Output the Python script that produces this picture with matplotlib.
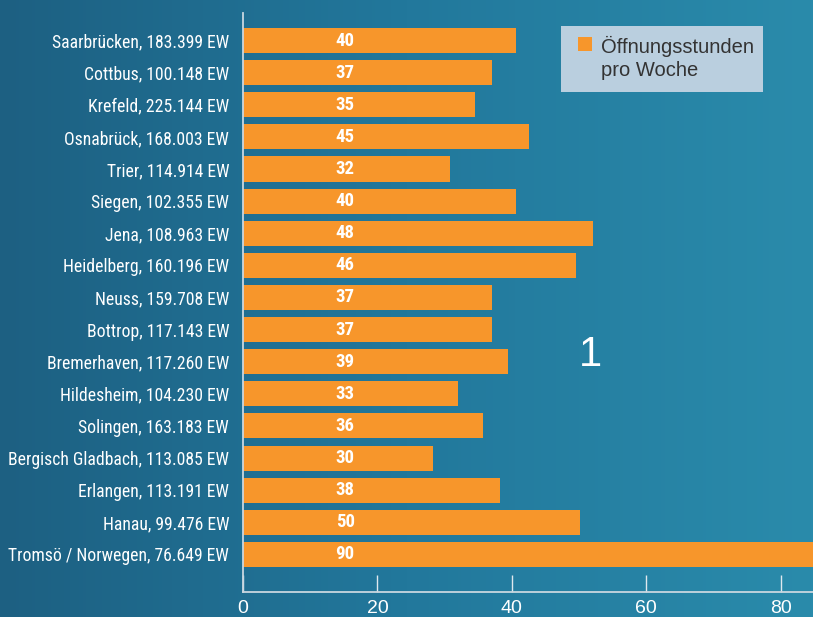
import matplotlib.pyplot as plt
import numpy as np
from matplotlib import font_manager
from matplotlib.colors import LinearSegmentedColormap
from matplotlib.patches import Rectangle

cities = ['Saarbrücken, 183.399 EW', 'Cottbus, 100.148 EW', 'Krefeld, 225.144 EW',
          'Osnabrück, 168.003 EW', 'Trier, 114.914 EW', 'Siegen, 102.355 EW',
          'Jena, 108.963 EW', 'Heidelberg, 160.196 EW', 'Neuss, 159.708 EW',
          'Bottrop, 117.143 EW', 'Bremerhaven, 117.260 EW', 'Hildesheim, 104.230 EW',
          'Solingen, 163.183 EW', 'Bergisch Gladbach, 113.085 EW', 'Erlangen, 113.191 EW',
          'Hanau, 99.476 EW', 'Tromsö / Norwegen, 76.649 EW']
# printed values on the bars
hours = [40, 37, 35, 45, 32, 40, 48, 46, 37, 37, 39, 33, 36, 30, 38, 50, 90]
# bar lengths as drawn in the picture (not always equal to the printed value)
bar_len = [40.6, 37.0, 34.5, 42.6, 30.8, 40.6, 52.1, 49.6, 37.0, 37.0, 39.4,
           32.0, 35.7, 28.3, 38.2, 50.1, 90]
series_label = 'Öffnungsstunden\npro Woche'
xticks = [0, 20, 40, 60, 80]

# pick a condensed font for the city labels
names = {f.name for f in font_manager.fontManager.ttflist}
narrow = 'DejaVu Sans'
for cand in ['Roboto Condensed', 'Open Sans Condensed', 'PT Sans Narrow',
             'Asap Condensed', 'Barlow Semi Condensed']:
    if cand in names:
        narrow = cand
        break

orange = '#f7962b'

fig = plt.figure(figsize=(8.13, 6.17), dpi=100)

# background gradient
bg = fig.add_axes([0, 0, 1, 1], zorder=-10)
cmap = LinearSegmentedColormap.from_list('bg', ['#1d6082', '#22789c', '#2a8bab'])
grad = np.linspace(0, 1, 256).reshape(1, -1)
bg.imshow(grad, aspect='auto', cmap=cmap, extent=[0, 1, 0, 1])
bg.axis('off')

ax = fig.add_axes([243 / 813, 25 / 617, 1 - 243 / 813, 579 / 617])
ax.patch.set_alpha(0)

y = np.arange(len(cities))
ax.barh(y, bar_len, height=0.78, color=orange, zorder=2)

for yi, h in zip(y, hours):
    ax.text(15.2, yi, str(h), color='white', fontsize=13.5, fontweight='bold',
            family=narrow, ha='center', va='center', zorder=3)

ax.set_ylim(16 + 1.17, -0.857)
ax.set_xlim(0, 84.8)
ax.set_yticks(y)
ax.set_yticklabels(cities, family=narrow, fontsize=12.7, color='white')
ax.set_xticks(xticks)
ax.set_xticklabels([str(t) for t in xticks], fontsize=14, color='white',
                   family='Liberation Sans')

ax.tick_params(axis='y', length=0, pad=10)
ax.tick_params(axis='x', direction='in', length=12, width=1, color='#dfe8ee', pad=6)

for s in ['top', 'right']:
    ax.spines[s].set_visible(False)
for s in ['left', 'bottom']:
    ax.spines[s].set_color('#c9d7e0')
    ax.spines[s].set_linewidth(1.3)

fig.text(590 / 813, 1 - 355 / 617, '1', color='white', fontsize=30,
         family='Liberation Sans', ha='center', va='center')

# legend box drawn by hand so the swatch sits on the first line
W, H = 813, 617
fig.patches.append(Rectangle((561 / W, 1 - 92 / H), 202 / W, 66 / H,
                             transform=fig.transFigure, facecolor='#bacfdf',
                             edgecolor='none', zorder=5))
fig.patches.append(Rectangle((578 / W, 1 - 51 / H), 14 / W, 14 / H,
                             transform=fig.transFigure, facecolor=orange,
                             edgecolor='none', zorder=6))
fig.text(601 / W, 1 - 36 / H, series_label, color='#333333', fontsize=14.5,
         family='Liberation Sans', ha='left', va='top', linespacing=1.25, zorder=7)

fig.savefig('out.png', dpi=100)
